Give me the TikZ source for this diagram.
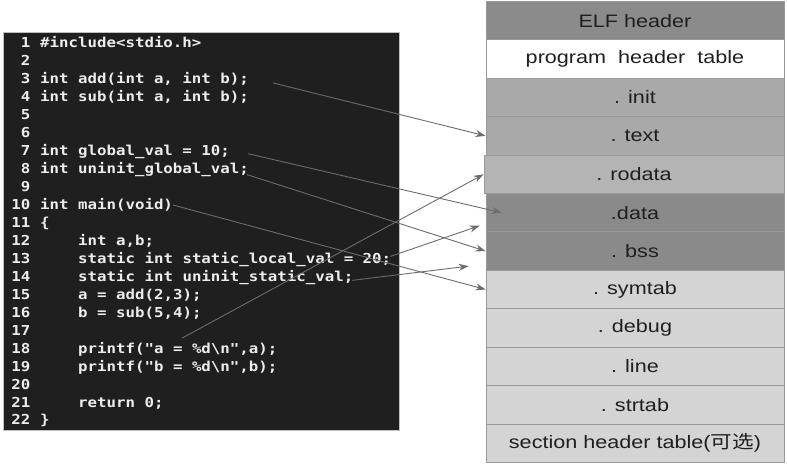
\documentclass[tikz,border=0pt]{standalone}
\usepackage{fontspec}
\usetikzlibrary{arrows.meta}
\newfontfamily\codefont[FakeStretch=1.15]{DejaVu Sans Mono}
\newfontfamily\boxfont[FakeStretch=1.2]{Liberation Sans}
\newfontfamily\cjk[FakeStretch=1.2]{Noto Sans CJK SC}
\definecolor{codebg}{HTML}{1F1F1F}
\definecolor{codefg}{HTML}{EDEDED}
\definecolor{hdrgray}{HTML}{8B8B8B}
\definecolor{midgray}{HTML}{A9A9A9}
\definecolor{rogray}{HTML}{B4B4B4}
\definecolor{datgray}{HTML}{8A8A8A}
\definecolor{lightgray}{HTML}{D4D4D4}
\definecolor{linkgray}{HTML}{6C6C6C}
\tikzset{
	num/.style={anchor=base east, inner sep=0pt, text=codefg, font=\codefont\bfseries\fontsize{13.7}{16}\selectfont},
	code/.style={anchor=base west, inner sep=0pt, text=codefg, font=\codefont\bfseries\fontsize{13.7}{16}\selectfont},
	row/.style={draw=black!40, line width=0.8pt, minimum width=298pt, minimum height=38.4pt, inner sep=0pt, text=black!88, font=\boxfont\fontsize{18}{20}\selectfont},
	link/.style={draw=linkgray, line width=0.9pt, -{Stealth[length=10pt,width=7pt]}}
}
\begin{document}
\begin{tikzpicture}[x=1pt,y=-1pt]
	\useasboundingbox[fill=white] (0,0) rectangle (787,465);
	% source listing
	\draw[fill=codebg, draw=black!25] (3,32) rectangle (399,430);
	\node[num] (n1) at (30.5,48) {1};     \node[code] (c1) at (40,48) {\#include<stdio.h>};
	\node[num] (n2) at (30.5,65.95) {2};
	\node[num] (n3) at (30.5,83.9) {3};   \node[code] (c3) at (40,83.9) {int add(int a, int b);};
	\node[num] (n4) at (30.5,101.85) {4}; \node[code] (c4) at (40,101.85) {int sub(int a, int b);};
	\node[num] (n5) at (30.5,119.8) {5};
	\node[num] (n6) at (30.5,137.75) {6};
	\node[num] (n7) at (30.5,155.7) {7};  \node[code] (c7) at (40,155.7) {int global\_val = 10;};
	\node[num] (n8) at (30.5,173.65) {8}; \node[code] (c8) at (40,173.65) {int uninit\_global\_val;};
	\node[num] (n9) at (30.5,191.6) {9};
	\node[num] (n10) at (30.5,209.55) {10}; \node[code] (c10) at (40,209.55) {int main(void)};
	\node[num] (n11) at (30.5,227.5) {11};  \node[code] (c11) at (40,227.5) {\{};
	\node[num] (n12) at (30.5,245.45) {12}; \node[code] (c12) at (78,245.45) {int a,b;};
	\node[num] (n13) at (30.5,263.4) {13};  \node[code] (c13) at (78,263.4) {static int static\_local\_val = 20;};
	\node[num] (n14) at (30.5,281.35) {14}; \node[code] (c14) at (78,281.35) {static int uninit\_static\_val;};
	\node[num] (n15) at (30.5,299.3) {15};  \node[code] (c15) at (78,299.3) {a = add(2,3);};
	\node[num] (n16) at (30.5,317.25) {16}; \node[code] (c16) at (78,317.25) {b = sub(5,4);};
	\node[num] (n17) at (30.5,335.2) {17};
	\node[num] (n18) at (30.5,353.15) {18}; \node[code] (c18) at (78,353.15) {printf("a = \%d\textbackslash n",a);};
	\node[num] (n19) at (30.5,371.1) {19};  \node[code] (c19) at (78,371.1) {printf("b = \%d\textbackslash n",b);};
	\node[num] (n20) at (30.5,389.05) {20};
	\node[num] (n21) at (30.5,407) {21};    \node[code] (c21) at (78,407) {return 0;};
	\node[num] (n22) at (30.5,424.95) {22}; \node[code] (c22) at (40,424.95) {\}};
	% ELF layout
	\node[row, fill=hdrgray] (elf) at (635,20.7) {ELF header};
	\node[row, fill=white] (pht) at (635,59.1) {program\ \ header\ \ table};
	\node[row, fill=midgray] (init) at (635,97.5) {. init};
	\node[row, fill=midgray] (text) at (635,135.9) {. text};
	\node[row, fill=rogray, minimum width=300pt] (rodata) at (634,174.3) {. rodata};
	\node[row, fill=datgray] (data) at (635,212.7) {.data};
	\node[row, fill=datgray] (bss) at (635,251.1) {. bss};
	\node[row, fill=lightgray] (symtab) at (635,289.5) {. symtab};
	\node[row, fill=lightgray] (debug) at (635,327.9) {. debug};
	\node[row, fill=lightgray] (line) at (635,366.3) {. line};
	\node[row, fill=lightgray] (strtab) at (635,404.7) {. strtab};
	\node[row, fill=lightgray] (sht) at (635,443.1) {section header table({\cjk 可选})};
	% where each part goes
	\draw[link] ([xshift=24pt,yshift=1pt]c3.base east) -- (text.west);
	\draw[link] ([xshift=18pt,yshift=2pt]c7.base east) -- ([xshift=16pt]data.west);
	\draw[link] ([xshift=-2pt,yshift=-1pt]c8.base east) -- (bss.west);
	\draw[link] ([yshift=4.5pt]c10.base east) -- (symtab.west);
	\draw[link] ([xshift=-1pt,yshift=7pt]c13.base east) -- ([xshift=-6pt,yshift=-13pt]data.west);
	\draw[link] ([xshift=-1pt,yshift=1pt]c14.base east) -- ([xshift=-17pt,yshift=-15pt]bss.west);
	\draw[link] ([xshift=104pt,yshift=15pt]c18.base west) -- (rodata.west);
\end{tikzpicture}
\end{document}
